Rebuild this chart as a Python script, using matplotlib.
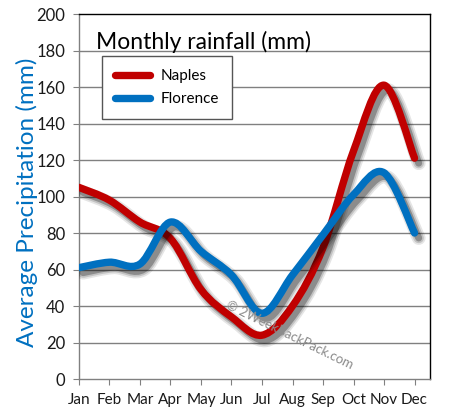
import numpy as np
import matplotlib
matplotlib.use("Agg")
import matplotlib.pyplot as plt
import matplotlib.patheffects as pe
from matplotlib.path import Path
from matplotlib.patches import PathPatch
from matplotlib.lines import Line2D

months = ["Jan", "Feb", "Mar", "Apr", "May", "Jun",
          "Jul", "Aug", "Sep", "Oct", "Nov", "Dec"]
naples = [105, 98, 86, 77, 49, 34, 24, 40, 72, 125, 161, 121]
florence = [61, 64, 63, 86, 70, 57, 36, 57, 79, 101, 113, 80]

RED = "#C00000"
BLUE = "#0070C0"

plt.rcParams["font.family"] = ["Lato", "DejaVu Sans"]


def smooth_path(xs, ys):
    # Bezier control points, catmull-rom style (like spreadsheet smoothing)
    pts = np.column_stack([xs, ys]).astype(float)
    n = len(pts)
    verts = [pts[0]]
    codes = [Path.MOVETO]
    for i in range(n - 1):
        p0 = pts[i - 1] if i > 0 else pts[i]
        p1 = pts[i]
        p2 = pts[i + 1]
        p3 = pts[i + 2] if i + 2 < n else pts[i + 1]
        verts += [p1 + (p2 - p0) / 6, p2 - (p3 - p1) / 6, p2]
        codes += [Path.CURVE4] * 3
    return Path(verts, codes)


fig = plt.figure(figsize=(4.51, 4.18), dpi=100)
ax = fig.add_axes([0.175, 0.0933, 0.778, 0.8732])

ax.set_xlim(0, 11.5)
ax.set_ylim(0, 200)

shadow = [
    pe.SimpleLineShadow(offset=(3, -3.6), shadow_color="k", alpha=0.10, linewidth=10),
    pe.SimpleLineShadow(offset=(3, -3.6), shadow_color="k", alpha=0.15, linewidth=7.5),
    pe.SimpleLineShadow(offset=(3, -3.6), shadow_color="k", alpha=0.28, linewidth=5),
    pe.Normal(),
]

x = np.arange(len(months))
for vals, col in [(naples, RED), (florence, BLUE)]:
    patch = PathPatch(smooth_path(x, vals), facecolor="none", edgecolor=col,
                      lw=5.3, capstyle="round", joinstyle="round", zorder=3,
                      path_effects=shadow)
    ax.add_patch(patch)

ax.set_yticks(np.arange(0, 201, 20))
ax.set_xticks(x)
ax.set_xticklabels(months)
for yv in range(20, 200, 20):
    ax.axhline(yv, color="#808080", lw=1.0, zorder=1)

for s in ["left", "bottom"]:
    ax.spines[s].set_color("#808080")
for s in ["top", "right"]:
    ax.spines[s].set_color("black")
for s in ax.spines.values():
    s.set_linewidth(1.0)

ax.tick_params(axis="y", direction="out", length=4, color="#808080",
               labelsize=12, labelcolor="#1a1a1a", pad=6)
ax.tick_params(axis="x", direction="out", length=4, color="#808080",
               labelsize=11, labelcolor="#1a1a1a", pad=6)

ax.set_ylabel("Average Precipitation (mm)", color=BLUE, fontsize=17.5)
ax.yaxis.set_label_coords(-0.118, 0.484)

ax.text(0.048, 0.955, "Monthly rainfall (mm)", transform=ax.transAxes,
        fontsize=16.5, color="black", ha="left", va="top")

handles = [Line2D([], [], color=RED, lw=5.3, solid_capstyle="round"),
           Line2D([], [], color=BLUE, lw=5.3, solid_capstyle="round")]
leg = ax.legend(handles, ["Naples", "Florence"], loc="upper left",
                bbox_to_anchor=(0.0655, 0.885), borderaxespad=0,
                fancybox=False, fontsize=11, handlelength=2.3,
                handletextpad=0.7, labelspacing=0.6, borderpad=0.85,
                framealpha=1, edgecolor="#555555")
leg.get_frame().set_linewidth(1.0)

ax.text(0.6, 0.12, "\u00a9 2WeekBackPack.com", transform=ax.transAxes,
        fontsize=9.5, color="#8c8c8c", rotation=-26, ha="center", va="center",
        zorder=4)

fig.savefig("out.png", dpi=100)
